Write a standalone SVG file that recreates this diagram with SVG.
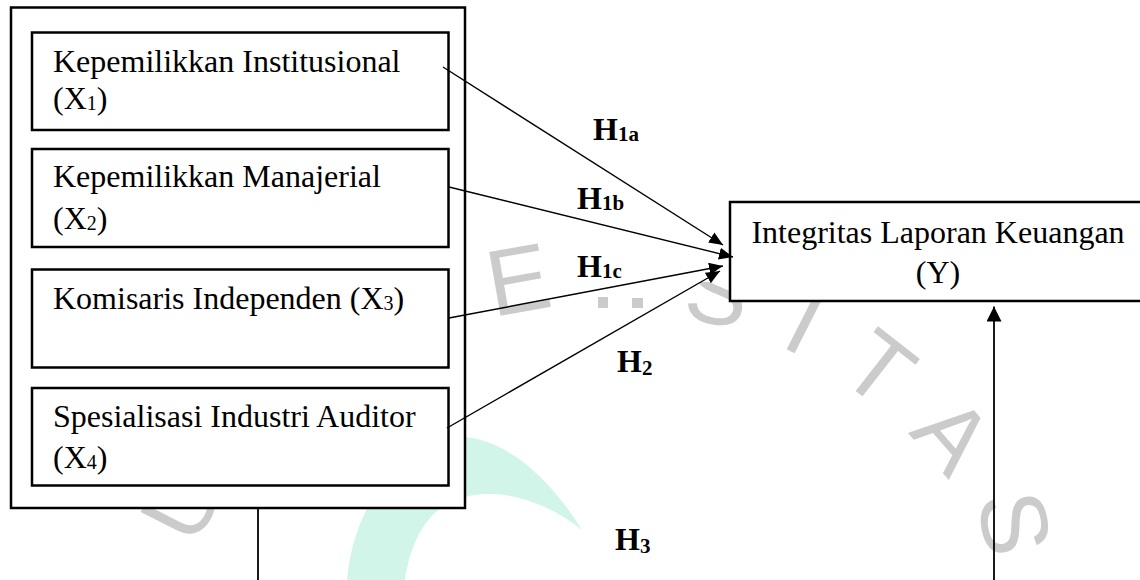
<svg xmlns="http://www.w3.org/2000/svg" width="1140" height="580" viewBox="0 0 1140 580">
  <defs>
    <style>
      .box { fill: #ffffff; stroke: #000000; stroke-width: 2.5; }
      .lbl { font-family: "Liberation Serif", "Times New Roman", serif; font-size: 32px; fill: #000000; }
      .hyp { font-family: "Liberation Serif", "Times New Roman", serif; font-size: 32px; font-weight: bold; fill: #000000; }
      .sub { font-size: 20px; }
      .hsub { font-size: 21px; }
      .edge { fill: none; stroke: #000000; stroke-width: 1.4; }
      .vline { fill: none; stroke: #000000; stroke-width: 1.8; }
      .wm { font-family: "Liberation Sans", Arial, sans-serif; font-size: 94px; fill: #cbcbcb; }
    </style>
    <clipPath id="sclip">
      <rect x="600" y="282" width="200" height="60"/>
    </clipPath>
    <marker id="arrow" markerUnits="userSpaceOnUse" markerWidth="14" markerHeight="12" refX="14" refY="6" orient="auto">
      <path d="M0,0 L14,6 L0,12 Z" fill="#000000"/>
    </marker>
    <marker id="arrowUp" markerUnits="userSpaceOnUse" markerWidth="15" markerHeight="15" refX="15" refY="7.5" orient="auto">
      <path d="M0,0 L15,7.5 L0,15 Z" fill="#000000"/>
    </marker>
  </defs>

  <rect x="0" y="0" width="1140" height="580" fill="#ffffff"/>

  <g id="watermark">
    <path d="M347,580 C352,520 385,460 440,440 C490,425 545,470 582,530 C545,500 495,485 455,500 C425,512 410,545 405,580 Z" fill="#d2f5e9"/>
    <text class="wm" transform="translate(180,502) rotate(-63)" x="0" y="34" text-anchor="middle">U</text>
    <text class="wm" transform="translate(518,278) rotate(-10)" x="0" y="34" text-anchor="middle">E</text>
    <rect x="598" y="297" width="10" height="11" fill="#cbcbcb"/>
    <rect x="632" y="298" width="11" height="10" fill="#cbcbcb"/>
    <g clip-path="url(#sclip)">
      <text class="wm" transform="translate(718,290) rotate(10)" x="0" y="34" text-anchor="middle">S</text>
    </g>
    <text class="wm" transform="translate(806,321) rotate(27)" x="0" y="34" text-anchor="middle">I</text>
    <text class="wm" transform="translate(880,367) rotate(38)" x="0" y="34" text-anchor="middle">T</text>
    <text class="wm" transform="translate(954,434) rotate(49)" x="0" y="34" text-anchor="middle">A</text>
    <text class="wm" transform="translate(1016,523) rotate(80)" x="0" y="34" text-anchor="middle">S</text>
  </g>

  <g id="independent-group">
    <rect class="box" x="11" y="7.5" width="454" height="500.5"/>
  </g>

  <g id="x1">
    <rect class="box" x="32" y="32.5" width="416.5" height="97.5"/>
    <text class="lbl" x="53" y="72">Kepemilikkan Institusional</text>
    <text class="lbl" x="53" y="109">(X<tspan class="sub" dy="1">1</tspan><tspan dy="-1">)</tspan></text>
  </g>

  <g id="x2">
    <rect class="box" x="32" y="149" width="416.5" height="98"/>
    <text class="lbl" x="53" y="187">Kepemilikkan Manajerial</text>
    <text class="lbl" x="53" y="229">(X<tspan class="sub" dy="1">2</tspan><tspan dy="-1">)</tspan></text>
  </g>

  <g id="x3">
    <rect class="box" x="32" y="269.5" width="416.5" height="98"/>
    <text class="lbl" x="53" y="309">Komisaris Independen (X<tspan class="sub" dy="1">3</tspan><tspan dy="-1">)</tspan></text>
  </g>

  <g id="x4">
    <rect class="box" x="32" y="388" width="416.5" height="97.5"/>
    <text class="lbl" x="53" y="427">Spesialisasi Industri Auditor</text>
    <text class="lbl" x="53" y="468">(X<tspan class="sub" dy="1">4</tspan><tspan dy="-1">)</tspan></text>
  </g>

  <g id="y">
    <rect class="box" x="730" y="202" width="430" height="99"/>
    <text class="lbl" x="938" y="243" text-anchor="middle">Integritas Laporan Keuangan</text>
    <text class="lbl" x="938" y="283" text-anchor="middle">(Y)</text>
  </g>

  <g id="connectors">
    <line class="edge" x1="443" y1="67" x2="723" y2="245" marker-end="url(#arrow)"/>
    <line class="edge" x1="449" y1="187" x2="733" y2="257" marker-end="url(#arrow)"/>
    <line class="edge" x1="449" y1="318" x2="723" y2="266" marker-end="url(#arrow)"/>
    <line class="edge" x1="447" y1="428" x2="720" y2="271" marker-end="url(#arrow)"/>
    <line class="vline" x1="258" y1="508" x2="258" y2="580"/>
    <line class="vline" x1="994" y1="580" x2="994" y2="306.5" marker-end="url(#arrowUp)"/>
  </g>

  <g id="labels">
    <text class="hyp" x="593" y="140">H<tspan class="hsub" dy="1">1a</tspan></text>
    <text class="hyp" x="577" y="208.5">H<tspan class="hsub" dy="1">1b</tspan></text>
    <text class="hyp" x="577" y="276.5">H<tspan class="hsub" dy="1">1c</tspan></text>
    <text class="hyp" x="617" y="371.5">H<tspan class="hsub" dy="3">2</tspan></text>
    <text class="hyp" x="615" y="550">H<tspan class="hsub" dy="3">3</tspan></text>
  </g>
</svg>
